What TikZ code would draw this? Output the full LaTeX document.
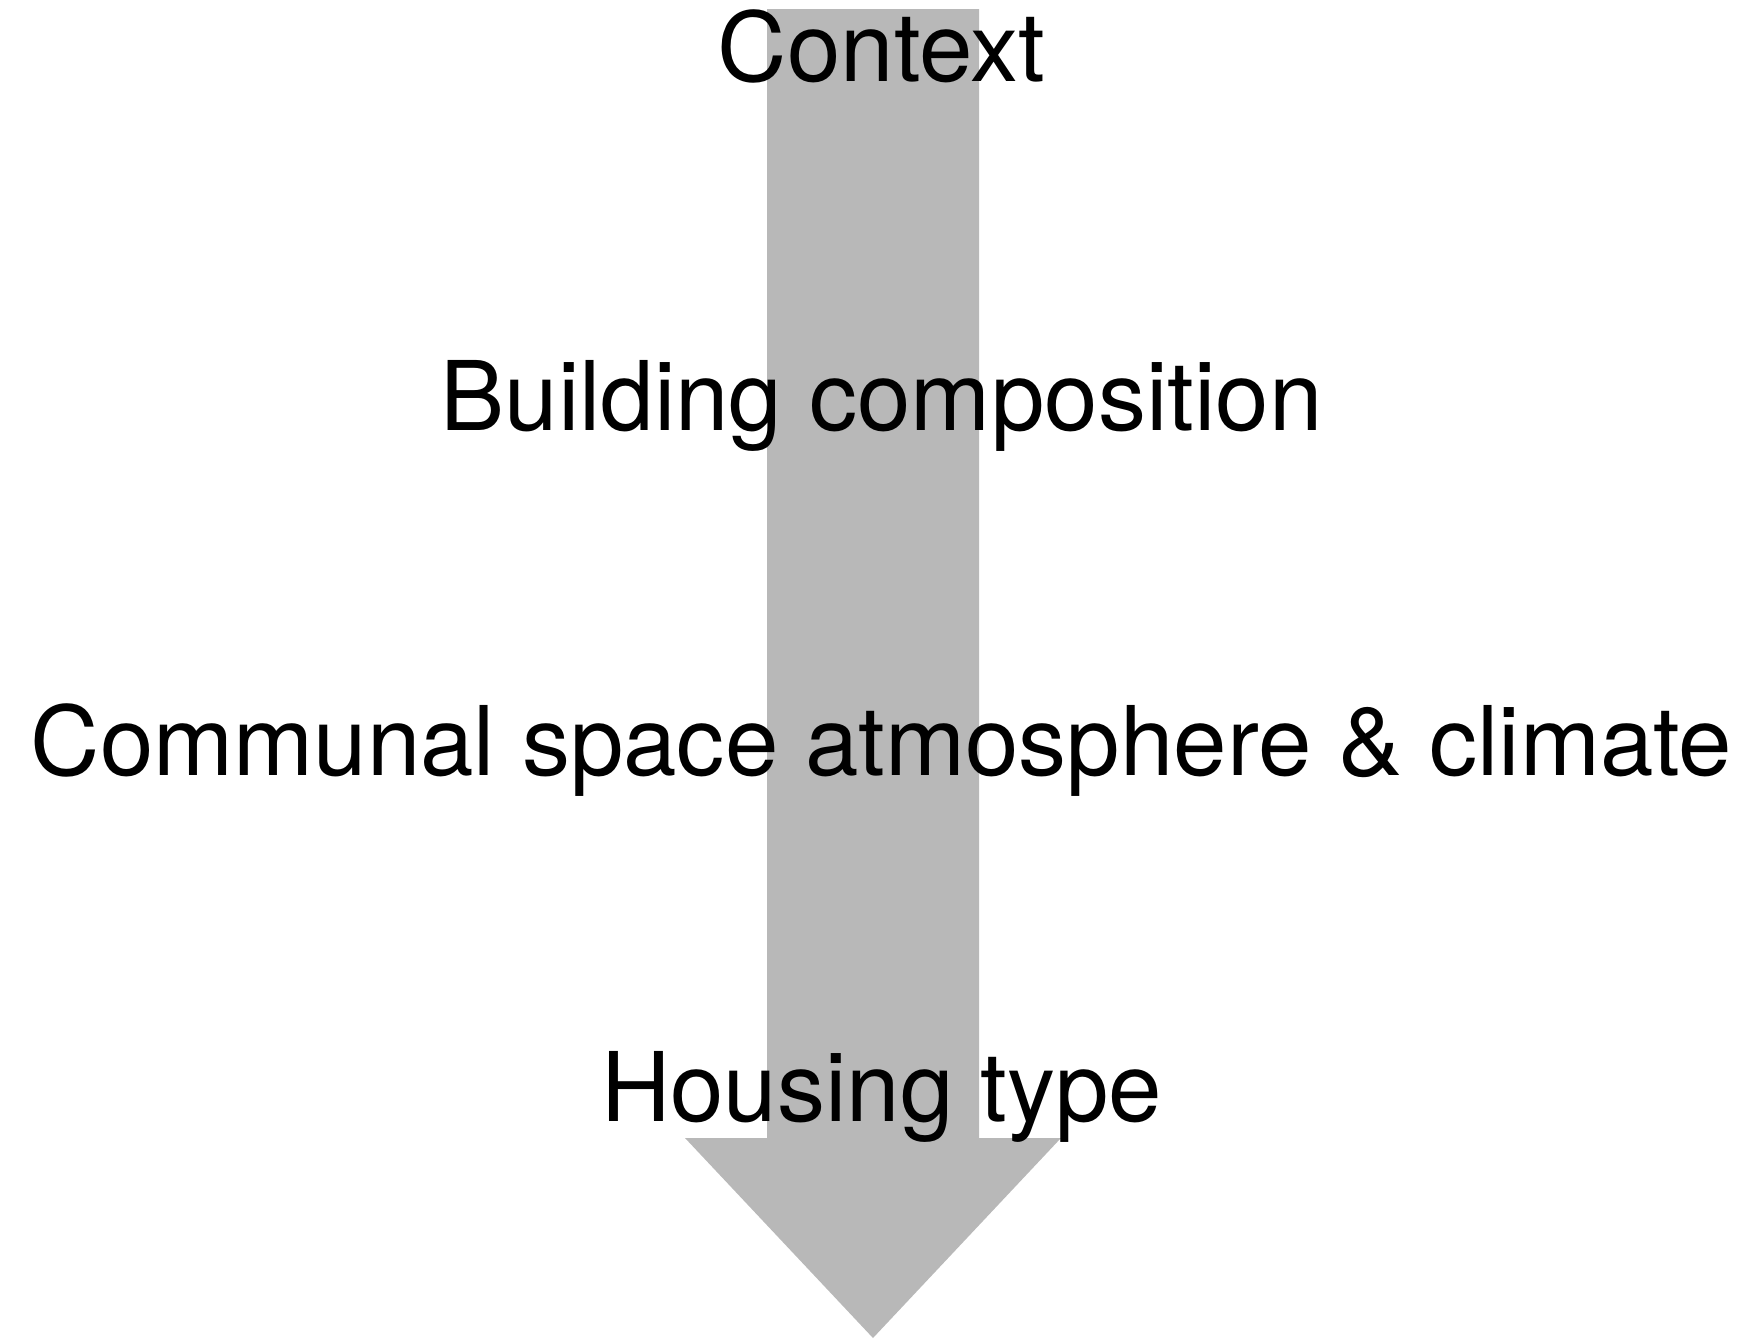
\documentclass[tikz,border=0pt]{standalone}
\usepackage{fontspec}
\setmainfont{TeX Gyre Heros}
\definecolor{arrowgray}{RGB}{184,184,184}
\tikzstyle{level}=[anchor=base,inner sep=0pt,font=\fontsize{27.35}{32}\selectfont]
\tikzstyle{bigarrow}=[fill=arrowgray,draw=none]

\begin{document}
\begin{tikzpicture}
\def \ctr {8.73};
\def \shafthw {1.06};
\def \headhw {1.88};
\def \shafttop {-0.09};
\def \headbase {-11.38};
\def \tipy {-13.38};
\def \txtx {8.815};

\useasboundingbox (0,0) rectangle (17.48,-13.38);

% the arrow
\fill[bigarrow] (\ctr - \shafthw, \shafttop) -- (\ctr + \shafthw, \shafttop)
	-- (\ctr + \shafthw, \headbase) -- (\ctr + \headhw, \headbase)
	-- (\ctr, \tipy) -- (\ctr - \headhw, \headbase)
	-- (\ctr - \shafthw, \headbase) -- cycle;

% the levels
\node[level] (context) at (\txtx, -0.81) {Context};
\node[level] (building) at (\txtx, -4.30) {Building composition};
\node[level] (communal) at (\txtx, -7.75) {Communal space atmosphere \& climate};
\node[level] (housing) at (\txtx, -11.21) {Housing type};

\end{tikzpicture}
\end{document}
